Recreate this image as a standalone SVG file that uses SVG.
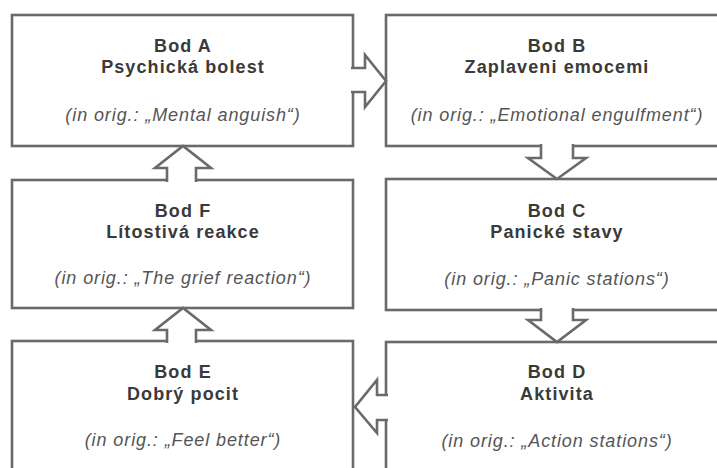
<svg xmlns="http://www.w3.org/2000/svg" width="717" height="468" viewBox="0 0 717 468">
<style>
.box{fill:#ffffff;stroke:#6a6a6a;stroke-width:2.6}
.arr{fill:#ffffff;stroke:#6a6a6a;stroke-width:2.6;stroke-linejoin:miter}
.t{font-family:"Liberation Sans",Arial,sans-serif;font-weight:bold;font-size:18px;fill:#3a3a3a;text-anchor:middle;letter-spacing:1.1px}
.s{font-family:"Liberation Sans",Arial,sans-serif;font-style:italic;font-size:18px;fill:#555555;text-anchor:middle;letter-spacing:0.9px}
</style>
<rect width="717" height="468" fill="#ffffff"/>
<g id="nodeA">
<rect class="box" x="12" y="15" width="341" height="131"/>
<text class="t" x="183" y="52">Bod A</text>
<text class="t" x="183" y="73">Psychická bolest</text>
<text class="s" x="183" y="121">(in orig.: „Mental anguish“)</text>
</g>
<g id="nodeB">
<rect class="box" x="386" y="15" width="342" height="131"/>
<text class="t" x="557" y="52">Bod B</text>
<text class="t" x="557" y="73">Zaplaveni emocemi</text>
<text class="s" x="557" y="121">(in orig.: „Emotional engulfment“)</text>
</g>
<g id="nodeF">
<rect class="box" x="12" y="180" width="341" height="128"/>
<text class="t" x="183" y="217">Bod F</text>
<text class="t" x="183" y="238">Lítostivá reakce</text>
<text class="s" x="183" y="284">(in orig.: „The grief reaction“)</text>
</g>
<g id="nodeC">
<rect class="box" x="386" y="179" width="342" height="131"/>
<text class="t" x="557" y="217">Bod C</text>
<text class="t" x="557" y="238">Panické stavy</text>
<text class="s" x="557" y="285">(in orig.: „Panic stations“)</text>
</g>
<g id="nodeE">
<rect class="box" x="12" y="341" width="341" height="135"/>
<text class="t" x="183" y="378">Bod E</text>
<text class="t" x="183" y="400">Dobrý pocit</text>
<text class="s" x="183" y="446">(in orig.: „Feel better“)</text>
</g>
<g id="nodeD">
<rect class="box" x="386" y="342" width="342" height="134"/>
<text class="t" x="557" y="378">Bod D</text>
<text class="t" x="557" y="400">Aktivita</text>
<text class="s" x="557" y="447">(in orig.: „Action stations“)</text>
</g>
<g id="connectors">
<path class="arr" d="M351 68 L365 68 L365 55 L386 81 L365 107 L365 92 L351 92"/>
<path class="arr" d="M541 144 L541 158 L528 158 L557 179 L586 158 L573 158 L573 144"/>
<path class="arr" d="M541 308 L541 320 L528 320 L557 342 L586 320 L573 320 L573 308"/>
<path class="arr" d="M388 395 L377 395 L377 380 L355 407 L377 433 L377 420 L388 420"/>
<path class="arr" d="M167 343 L167 330 L155 330 L183 308 L211 330 L196 330 L196 343"/>
<path class="arr" d="M167 182 L167 168 L155 168 L183 146 L211 168 L196 168 L196 182"/>
</g>
</svg>
